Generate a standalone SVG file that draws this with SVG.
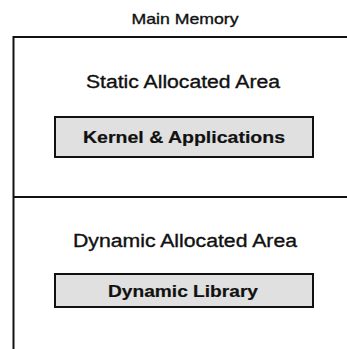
<svg xmlns="http://www.w3.org/2000/svg" width="347" height="349" viewBox="0 0 347 349">
  <style>
    .lbl { font-family: "Liberation Sans", Arial, sans-serif; fill: #111; stroke: #111; stroke-width: 0.35; }
    .area { font-size: 18px; }
    .box { fill: #e0e0e0; stroke: #111; stroke-width: 2; }
    .boxlbl { font-size: 17px; font-weight: bold; stroke-width: 0.2; }
    .ln { stroke: #111; stroke-width: 2; fill: none; }
  </style>
  <rect width="347" height="349" fill="#ffffff"/>
  <g id="main-memory">
    <text class="lbl" x="185" y="24" font-size="15" text-anchor="middle" textLength="107" lengthAdjust="spacingAndGlyphs">Main Memory</text>
    <path class="ln" d="M13.5,349 V37 H347"/>
    <path class="ln" d="M13.5,197 H347"/>
  </g>
  <g id="static-area">
    <text class="lbl area" x="183" y="88" text-anchor="middle" textLength="194" lengthAdjust="spacingAndGlyphs">Static Allocated Area</text>
  </g>
  <g id="kernel-apps">
    <rect class="box" x="55" y="117" width="258" height="40"/>
    <text class="lbl boxlbl" x="184" y="143" text-anchor="middle" textLength="202" lengthAdjust="spacingAndGlyphs">Kernel &amp; Applications</text>
  </g>
  <g id="dynamic-area">
    <text class="lbl area" x="185" y="247" text-anchor="middle" textLength="224" lengthAdjust="spacingAndGlyphs">Dynamic Allocated Area</text>
  </g>
  <g id="dynamic-library">
    <rect class="box" x="55" y="274" width="258" height="33"/>
    <text class="lbl boxlbl" x="183" y="297" text-anchor="middle" textLength="150" lengthAdjust="spacingAndGlyphs">Dynamic Library</text>
  </g>
  <g id="connectors"/>
</svg>
